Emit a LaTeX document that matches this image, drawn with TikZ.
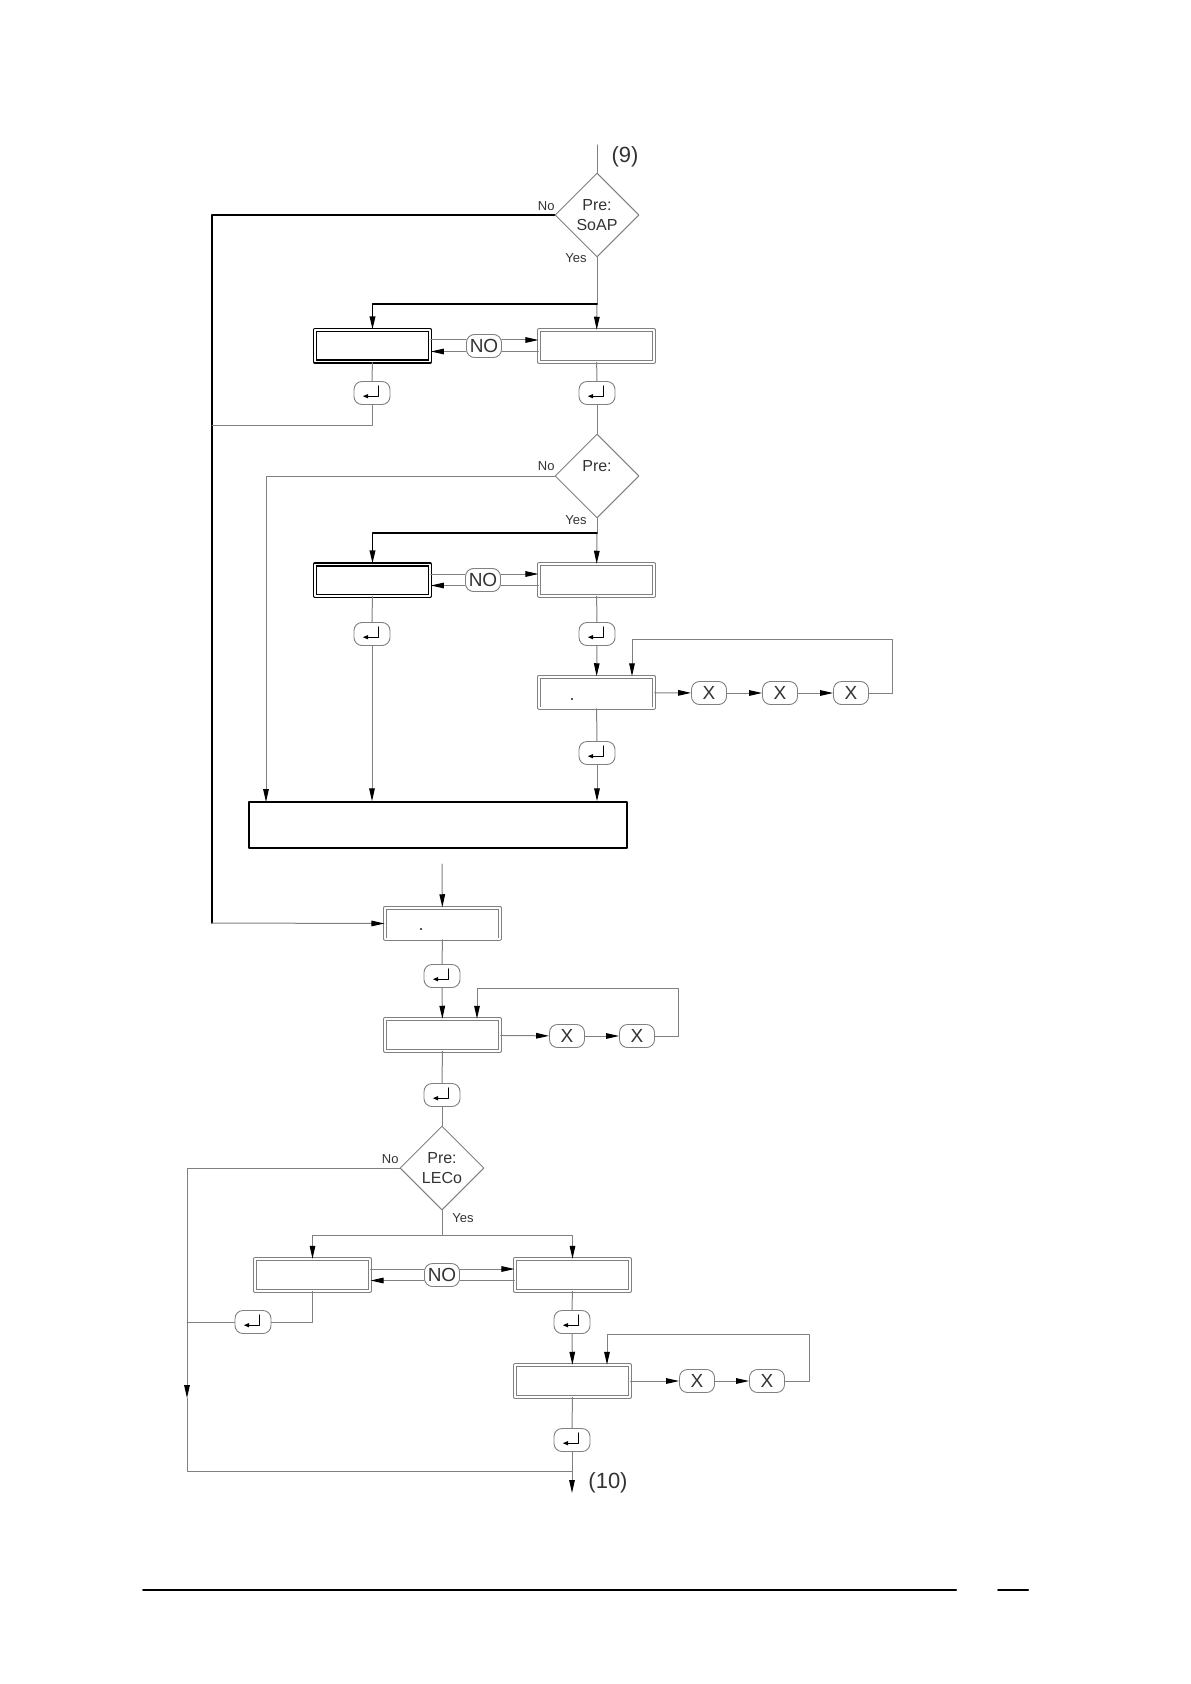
\documentclass[tikz,border=0pt]{standalone}
\usepackage{fontspec}
\setmainfont{Liberation Sans}
\usetikzlibrary{arrows.meta,shapes.geometric,calc}

\begin{document}
\begin{tikzpicture}[x=0.5pt, y=-0.5pt, line cap=round, line join=round,
  wire/.style={draw=wirecol, line width=0.5pt},
  heavy/.style={draw=black, line width=0.8pt},
  tip/.style={-{Triangle[length=6.5pt,width=2.8pt,color=black]}},
  disp/.style={rectangle, draw=wirecol, line width=0.45pt, double=white,
    double distance=0.9pt, minimum width=57.6pt, minimum height=15.8pt, inner sep=0pt},
  dispbold/.style={disp, draw=black, line width=0.8pt, double distance=0.7pt},
  wide/.style={rectangle, draw=black, line width=0.75pt, minimum width=189pt,
    minimum height=23pt},
  key/.style={rectangle, rounded corners=4pt, draw=wirecol, line width=0.45pt,
    minimum width=17.5pt, minimum height=11.5pt, inner sep=0pt,
    font=\fontsize{9.5}{9.5}\selectfont, text=txtcol},
  enter/.style={key, minimum width=18pt, path picture={
    \draw[sharp corners, black, line width=0.5pt, -{Triangle[length=2.6pt,width=2pt]}]
      ([shift={(3.2pt,3.6pt)}]path picture bounding box.center)
      -- ++(0pt,-5.2pt) -- ++(-7.8pt,0pt);}},
  cond/.style={diamond, aspect=1, draw=wirecol, line width=0.5pt, minimum width=42pt,
    minimum height=42pt, inner sep=0pt, align=center,
    font=\fontsize{8}{10}\selectfont, text=txtcol},
  tag/.style={font=\fontsize{6.5}{7}\selectfont, text=txtcol, inner sep=0pt},
  conn/.style={font=\fontsize{11}{11}\selectfont, text=txtcol, inner sep=0pt}]
  \colorlet{wirecol}{black!50}
  \colorlet{txtcol}{black!80}
  \useasboundingbox (0,0) rectangle (1190,1684);

  % first query
  \coordinate (in9) at (597,145);
  \node[conn] (lbl9) at (625,157) {(9)};
  \node[cond] (soap) at (597,215) {Pre:\\SoAP};
  \node[tag, anchor=east] (soapno) at (555,206) {No};
  \node[tag] (soapyes) at (576,258) {Yes};
  \coordinate (fork1) at (597,304);
  \node[dispbold] (selL1) at (372.5,346) {};
  \node[disp] (selR1) at (596.5,346) {};
  \node[key] (togg1) at (484,346) {NO};
  \node[enter] (entL1) at (372,393) {};
  \node[enter] (entR1) at (597,393) {};
  \coordinate (railA) at (212,923);
  \coordinate (joinA) at (212,426);

  % second query
  \node[cond] (pre2) at (597,476) {Pre:\\\mbox{}};
  \node[tag, anchor=east] (pre2no) at (555,466) {No};
  \node[tag] (pre2yes) at (576,520) {Yes};
  \coordinate (fork2) at (597,533);
  \node[dispbold] (selL2) at (372.5,580) {};
  \node[disp] (selR2) at (596.5,580) {};
  \node[key] (togg2) at (483,580) {NO};
  \node[enter] (entL2) at (372,634) {};
  \node[enter] (entR2) at (597,634) {};
  \node[disp] (digit3) at (596.5,692.5) {};
  \node[conn, font=\fontsize{9}{9}\selectfont] (dot3) at (572,700) {.};
  \node[key] (x3a) at (709,693) {X};
  \node[key] (x3b) at (780,693) {X};
  \node[key] (x3c) at (851,693) {X};
  \node[enter] (entR3) at (597,753) {};
  \node[wide] (total) at (438,825) {};
  \coordinate (dropA) at (266,802);

  % common part
  \coordinate (feed) at (442,864);
  \node[disp] (digit5) at (442.5,923.5) {};
  \node[conn, font=\fontsize{9}{9}\selectfont] (dot5) at (421,930) {.};
  \node[enter] (entR5) at (442,976) {};
  \node[disp] (disp6) at (442.5,1035) {};
  \node[key] (x6a) at (567,1036) {X};
  \node[key] (x6b) at (637,1036) {X};
  \node[enter] (entR6) at (442,1095) {};

  % third query
  \node[cond] (leco) at (442,1168) {Pre:\\LECo};
  \node[tag, anchor=east] (lecono) at (399,1159) {No};
  \node[tag] (lecoyes) at (463,1218) {Yes};
  \coordinate (fork7) at (442,1235);
  \node[disp] (selL7) at (312.5,1275) {};
  \node[disp] (selR7) at (572.5,1275) {};
  \node[key] (togg7) at (442,1275) {NO};
  \node[enter] (entL7) at (253,1322) {};
  \node[enter] (entR7) at (572,1322) {};
  \node[disp] (disp8) at (572.5,1381) {};
  \node[key] (x8a) at (697,1381) {X};
  \node[key] (x8b) at (767,1381) {X};
  \node[enter] (entR8) at (572,1440) {};
  \coordinate (railB) at (187,1398);
  \coordinate (merge) at (572,1471);
  \coordinate (out10) at (572,1493);
  \node[conn] (lbl10) at (608,1483) {(10)};

  % connectors
  \draw[wire] (in9) -- (soap.north);
  \draw[heavy] (soap.west) -| (railA);
  \draw[wire, tip] (railA) -- (digit5.west);
  \draw[wire] (soap.south) -- (fork1);
  \draw[wire, tip] (fork1) -- (selR1);
  \draw[heavy, tip] (fork1) -| (selL1);
  \draw[wire] (selL1) -- (entL1);
  \draw[wire] (entL1) |- (joinA);
  \draw[wire] (selR1) -- (entR1);
  \draw[wire] (entR1) -- (pre2);

  \draw[wire, tip] (pre2.west) -| (dropA);
  \draw[wire] (pre2.south) -- (fork2);
  \draw[wire, tip] (fork2) -- (selR2);
  \draw[heavy, tip] (fork2) -| (selL2);
  \draw[wire] (selL2) -- (entL2);
  \draw[wire, tip] (entL2) -- (entL2 |- total.north);
  \draw[wire] (selR2) -- (entR2);
  \draw[wire, tip] (entR2) -- (digit3);
  \draw[wire, tip] (x3c.east) -| (892,639) -| ([xshift=17.75pt]digit3.north);
  \draw[wire] (digit3) -- (entR3);
  \draw[wire, tip] (entR3) -- (entR3 |- total.north);

  \draw[wire, tip] (feed) -- (digit5);
  \draw[wire] (digit5) -- (entR5);
  \draw[wire, tip] (entR5) -- (disp6);
  \draw[wire, tip] (x6b.east) -| (678,988) -| ([xshift=17.25pt]disp6.north);
  \draw[wire] (disp6) -- (entR6);
  \draw[wire] (entR6) -- (leco);

  \draw[wire, tip] (leco.west) -| (railB);
  \draw[wire] (railB) |- (merge);
  \draw[wire] (leco.south) -- (fork7);
  \draw[wire, tip] (fork7) -| (selL7);
  \draw[wire, tip] (fork7) -| (selR7);
  \draw[wire] (selL7) |- (entL7);
  \draw[wire] (entL7) -- (entL7 -| railB);
  \draw[wire] (selR7) -- (entR7);
  \draw[wire, tip] (entR7) -- (disp8);
  \draw[wire, tip] (x8b.east) -| (809,1334) -| ([xshift=17.25pt]disp8.north);
  \draw[wire] (disp8) -- (entR8);
  \draw[wire, tip] (entR8) -- (out10);

  \foreach \a/\b in {digit3/x3a, x3a/x3b, x3b/x3c, disp6/x6a, x6a/x6b,
                     disp8/x8a, x8a/x8b}
    \draw[wire, tip] (\a) -- (\b);

  \foreach \r in {1,2,7} {%
    \draw[wire] ([yshift=3pt]selL\r.east) -- ([yshift=3pt]togg\r.west);
    \draw[wire, tip] ([yshift=3pt]togg\r.east) -- ([yshift=3pt]selR\r.west);
    \draw[wire] ([yshift=-2.75pt]selR\r.west) -- ([yshift=-2.75pt]togg\r.east);
    \draw[wire, tip] ([yshift=-2.75pt]togg\r.west) -- ([yshift=-2.75pt]selL\r.east);
  }

  % page rule
  \draw[black, line width=1pt] (143,1590) -- (956,1590);
  \draw[black, line width=1pt] (998,1590) -- (1028,1590);
\end{tikzpicture}
\end{document}
